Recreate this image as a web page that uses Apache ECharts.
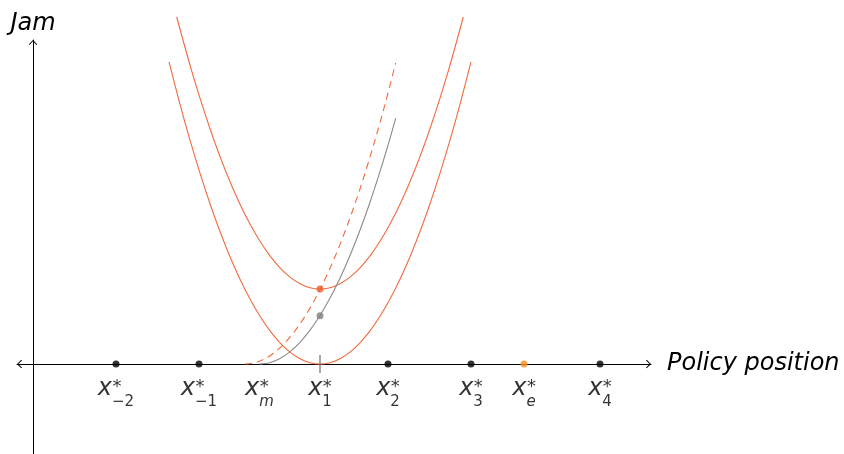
<!DOCTYPE html>
<html>
<head>
<meta charset="utf-8">
<script src="https://cdn.jsdelivr.net/npm/echarts@6/dist/echarts.min.js"></script>
<style>
  html, body { margin: 0; padding: 0; background: #ffffff; }
  #chart { width: 844px; height: 454px; }
</style>
</head>
<body>
<div id="chart"></div>
<script>
// Jam curves, as [policy position, jam] pairs
const jamLow = [
  [13.6, 30.21], [14.7, 25.97], [15.7, 22.39], [16.7, 19.08], [17.7, 16.03],
  [18.7, 13.25], [19.7, 10.73], [20.7, 8.48], [21.7, 6.49], [22.7, 4.77],
  [23.7, 3.31], [24.7, 2.12], [25.7, 1.19], [26.7, 0.53], [27.7, 0.13],
  [28.7, 0], [29.7, 0.13], [30.7, 0.53], [31.7, 1.19], [32.7, 2.12],
  [33.7, 3.31], [34.7, 4.77], [35.7, 6.49], [36.7, 8.48], [37.7, 10.73],
  [38.7, 13.25], [39.7, 16.03], [40.7, 19.08], [41.7, 22.39], [42.7, 25.97],
  [43.8, 30.21]
];
const jamHigh = [
  [14.37, 34.7], [15.7, 29.89], [16.7, 26.58], [17.7, 23.53], [18.7, 20.75],
  [19.7, 18.23], [20.7, 15.98], [21.7, 13.99], [22.7, 12.27], [23.7, 10.81],
  [24.7, 9.62], [25.7, 8.69], [26.7, 8.03], [27.7, 7.63], [28.7, 7.5],
  [29.7, 7.63], [30.7, 8.03], [31.7, 8.69], [32.7, 9.62], [33.7, 10.81],
  [34.7, 12.27], [35.7, 13.99], [36.7, 15.98], [37.7, 18.23], [38.7, 20.75],
  [39.7, 23.53], [40.7, 26.58], [41.7, 29.89], [43.03, 34.7]
];
const jamShifted = [
  [21.2, 0], [22.2, 0.13], [23.2, 0.53], [24.2, 1.19], [25.2, 2.12],
  [26.2, 3.31], [27.2, 4.77], [28.2, 6.49], [29.2, 8.48], [30.2, 10.73],
  [31.2, 13.25], [32.2, 16.03], [33.2, 19.08], [34.2, 22.39], [35.2, 25.97],
  [36.27, 30.1]
];
const jamMedian = [
  [22.65, 0], [23.65, 0.13], [24.65, 0.53], [25.65, 1.19], [26.65, 2.12],
  [27.65, 3.31], [28.65, 4.77], [29.65, 6.49], [30.65, 8.48], [31.65, 10.73],
  [32.65, 13.25], [33.65, 16.03], [34.65, 19.08], [35.65, 22.39], [36.27, 24.58]
];

// Marked positions on the policy axis
const keySubs = ['−2', '−1', 'm', '1', '2', '3', 'e', '4'];
const keyPos = [8.3, 16.6, 22.65, 28.7, 35.5, 43.8, 49.1, 56.7];
const blackDots = [8.3, 16.6, 35.5, 43.8, 56.7];
const equilibriumDots = [49.1];
const tickMarks = [28.7];
const highPoints = [[28.7, 7.5]];
const medianPoints = [[28.7, 4.83]];

const RED = '#f26a3d';
const GREY = '#8a8a8a';
const FONT = 'DejaVu Sans';
const MAIN_FONT = 'italic 24px "DejaVu Sans"';
const SUB_SIZE = 15;
const ARROW = 'path://M5,0 L10,5.1 L9.2,6 L5,1.6 L0.8,6 L0,5.1 Z';
const ARROW_W = 9, ARROW_H = 5;

// text widths, used to put the star right above the start of each subscript
const measureCtx = document.createElement('canvas').getContext('2d');
const textWidth = (txt, font) => { measureCtx.font = font; return measureCtx.measureText(txt).width; };
const subFont = s => (/[a-z]/.test(s) ? 'italic ' : '') + SUB_SIZE + 'px "DejaVu Sans"';
const joinOffset = s => {
  const wx = textWidth('x', MAIN_FONT);
  const ws = textWidth(s, subFont(s));
  return -(wx + ws) / 2 + wx;
};

const chart = echarts.init(document.getElementById('chart'), null, { renderer: 'canvas' });

const curve = (data, color, dashed) => ({
  type: 'line', data, smooth: 0.33, symbol: 'none', clip: false, z: 2,
  lineStyle: { color, width: 1.1, type: dashed ? [7, 5] : 'solid' }
});

const nameData = keyPos.map((x, i) => ({ value: [x, 0], sub: keySubs[i] }));
const starData = keyPos.map((x, i) => ({
  value: [x, 0],
  label: { offset: [joinOffset(keySubs[i]) + 0.5, 23.8] }
}));

chart.setOption({
  animation: false,
  grid: { left: 17, right: 193, top: 40, bottom: 0 },
  xAxis: {
    type: 'value', min: -1.6, max: 61.8,
    splitLine: { show: false }, axisTick: { show: false }, axisLabel: { show: false },
    axisLine: {
      onZero: true,
      lineStyle: { color: '#000', width: 1 },
      symbol: [ARROW, ARROW], symbolSize: [ARROW_W, ARROW_H],
      symbolOffset: [ARROW_H / 2, -ARROW_H / 2]
    },
    name: 'Policy position', nameLocation: 'end', nameGap: 16,
    nameTextStyle: { fontFamily: FONT, fontStyle: 'italic', fontSize: 24, color: '#000' }
  },
  yAxis: {
    type: 'value', min: -9.0, max: 32.4,
    splitLine: { show: false }, axisTick: { show: false }, axisLabel: { show: false },
    axisLine: {
      onZero: true,
      lineStyle: { color: '#000', width: 1 },
      symbol: ['none', ARROW], symbolSize: [ARROW_W, ARROW_H],
      symbolOffset: [0, -ARROW_H / 2]
    },
    name: 'Jam', nameLocation: 'end', nameGap: 4,
    nameTextStyle: { fontFamily: FONT, fontStyle: 'italic', fontSize: 24, color: '#000', align: 'center' }
  },
  series: [
    curve(jamLow, RED, false),
    curve(jamHigh, RED, false),
    curve(jamShifted, RED, true),
    curve(jamMedian, GREY, false),
    {
      type: 'scatter', data: tickMarks.map(x => [x, 0]), symbol: 'rect',
      symbolSize: [1.6, 18], itemStyle: { color: '#777' }, z: 3
    },
    {
      type: 'scatter', data: blackDots.map(x => [x, 0]), symbolSize: 7,
      itemStyle: { color: '#000' }, z: 4
    },
    {
      type: 'scatter', data: equilibriumDots.map(x => [x, 0]), symbolSize: 7,
      itemStyle: { color: '#f7901e' }, z: 4
    },
    {
      type: 'scatter', data: highPoints, symbolSize: 7, clip: false,
      itemStyle: { color: '#f05a2a' }, z: 4
    },
    {
      type: 'scatter', data: medianPoints, symbolSize: 7,
      itemStyle: { color: '#808080' }, z: 4
    },
    {
      // x with its subscript
      type: 'scatter', data: nameData, symbolSize: 0, z: 5, silent: true,
      label: {
        show: true, position: [0, 0], align: 'center', verticalAlign: 'middle',
        offset: [0, 29.4],
        formatter: p => {
          const s = p.data.sub;
          return '{x|x}{' + (/[a-z]/.test(s) ? 'sbi' : 'sb') + '|' + s + '}';
        },
        rich: {
          x: { fontFamily: FONT, fontStyle: 'italic', fontSize: 24, color: '#000', lineHeight: 24, verticalAlign: 'top' },
          sb: { fontFamily: FONT, fontSize: SUB_SIZE, color: '#000', lineHeight: 32.5, verticalAlign: 'bottom' },
          sbi: { fontFamily: FONT, fontStyle: 'italic', fontSize: SUB_SIZE, color: '#000', lineHeight: 32.5, verticalAlign: 'bottom' }
        }
      }
    },
    {
      // the star above each subscript
      type: 'scatter', data: starData, symbolSize: 0, z: 5, silent: true,
      label: {
        show: true, position: [0, 0], align: 'left', verticalAlign: 'middle',
        formatter: '*', fontFamily: FONT, fontSize: 18, color: '#000'
      }
    }
  ]
});
</script>
</body>
</html>
